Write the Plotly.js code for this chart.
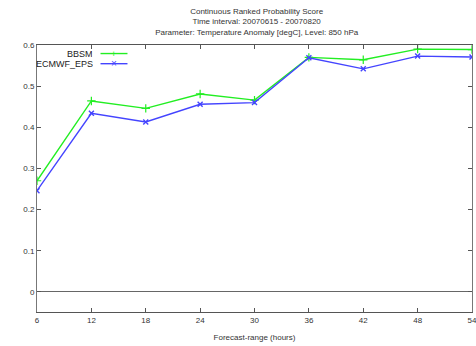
<!DOCTYPE html>
<html><head><meta charset="utf-8">
<script src="https://cdn.plot.ly/plotly-3.0.1.min.js"></script>
<style>html,body{margin:0;padding:0;background:#fff;}#c{width:476px;height:346px;}</style>
</head><body><div id="c"></div>
<script>
const hours = [6, 12, 18, 24, 30, 36, 42, 48, 54];
const bbsm = [0.270, 0.464, 0.446, 0.481, 0.466, 0.570, 0.564, 0.590, 0.589];
const ecmwf = [0.246, 0.434, 0.413, 0.456, 0.460, 0.569, 0.542, 0.573, 0.571];
const seriesNames = ['BBSM', 'ECMWF_EPS'];
const xTicks = [6, 12, 18, 24, 30, 36, 42, 48, 54];
const yTicks = [0, 0.1, 0.2, 0.3, 0.4, 0.5, 0.6];
const yTickText = ['0', '0.1', '0.2', '0.3', '0.4', '0.5', '0.6'];

const green = '#22ee22', blue = '#4444ff';
const colors = [green, blue];
const traces = [
  {x: hours, y: bbsm, name: seriesNames[0], mode: 'lines+markers', line: {color: green, width: 1.4},
   marker: {symbol: 'cross-thin-open', size: 6, color: green, line: {color: green, width: 1.2}}},
  {x: hours, y: ecmwf, name: seriesNames[1], mode: 'lines+markers', line: {color: blue, width: 1.4},
   marker: {symbol: 'x-thin-open', size: 5, color: blue, line: {color: blue, width: 1.4}}}
];
const F = 'Liberation Sans, Arial, sans-serif';
const font = {family: F, size: 8, color: '#333'};
// legend (text right-aligned, then sample line with marker)
const legY = [0.968, 0.930];
const legendShapes = legY.map((yy, i) => ({type: 'line', xref: 'paper', yref: 'paper',
  x0: 0.146, x1: 0.208, y0: yy, y1: yy, line: {color: colors[i], width: 1.4}}));
const legendAnn = [];
legY.forEach((yy, i) => {
  legendAnn.push({xref: 'paper', yref: 'paper', x: 0.132, y: yy, xanchor: 'right', yanchor: 'middle', showarrow: false,
    text: seriesNames[i], font: {family: F, size: 9, color: '#222'}, height: 10, borderpad: 0});
  legendAnn.push({xref: 'paper', yref: 'paper', x: 0.177, y: yy, xanchor: 'center', yanchor: 'middle', showarrow: false,
    text: i === 0 ? '+' : '×', font: {family: F, size: i === 0 ? 9 : 10, color: colors[i]}, height: 7, borderpad: 0});
});
const layout = {
  width: 476, height: 346,
  margin: {l: 37, r: 4, t: 45, b: 34},
  paper_bgcolor: '#fff', plot_bgcolor: '#fff',
  font: font,
  title: {text: 'Continuous Ranked Probability Score<br>Time interval: 20070615 - 20070820<br>Parameter: Temperature Anomaly [degC], Level: 850 hPa',
          font: {family: F, size: 8, color: '#333'},
          xref: 'paper', x: 0.505, xanchor: 'center', yref: 'container', y: 0.96, yanchor: 'middle'},
  xaxis: {range: [6, 54], tickvals: xTicks, ticktext: xTicks.map(String), ticks: 'inside', ticklen: 4,
          tickcolor: '#555', showgrid: false, zeroline: false, showline: true, linecolor: '#555', linewidth: 1,
          mirror: 'ticks', tickfont: font, ticklabeloverflow: 'allow',
          title: {text: 'Forecast-range (hours)', font: font, standoff: 10}},
  yaxis: {range: [-0.049, 0.6], tickvals: yTicks, ticktext: yTickText, ticks: 'inside', ticklen: 4,
          tickcolor: '#555', showgrid: false, zeroline: true, zerolinecolor: '#666', zerolinewidth: 1,
          showline: true, linecolor: '#777', linewidth: 1, mirror: 'ticks', tickfont: font},
  showlegend: false,
  shapes: legendShapes,
  annotations: legendAnn
};
Plotly.newPlot('c', traces, layout, {displayModeBar: false, staticPlot: true});
</script></body></html>
